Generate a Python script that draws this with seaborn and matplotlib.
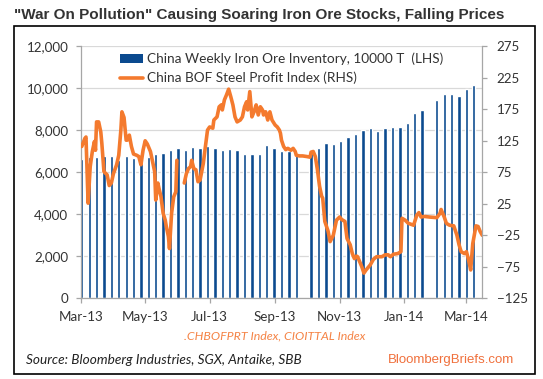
import matplotlib
matplotlib.use("Agg")
import matplotlib.pyplot as plt
import matplotlib.dates as mdates
from matplotlib.patches import Patch, Rectangle
from matplotlib.lines import Line2D
from matplotlib.ticker import FuncFormatter
import numpy as np
import pandas as pd
import seaborn as sns

# weekly iron ore inventory (10000 T), None = week not reported
inventory = [6630, 6710, 6710, 6790, 6790, 6590, 6760, 6670, 6670, 6750,
             6850, 6935, 7060, 7140, 7060, 7190, 7150, 7240, 7140, 7060,
             7110, 7060, 6890, 6890, 6890, 7290, 7140, 7030, 7000, 6840,
             None, 7030, 7150, 7410, 7340, 7480, 7680, 7810, 8010, 8095,
             7970, 8110, 8150, 8150, 8370, 8810, 8950, None, 9440, 9710,
             9710, 9620, 9950, 10170]
inv_start = "2013-03-02"

# BOF steel profit index, days after 2013-03-01, two segments (data gap in June)
profit_days_1 = [1, 4, 5, 7, 9, 11, 13, 14, 15, 17, 19, 20, 22, 25, 27, 29, 31, 34, 36, 38,
                 39, 41, 43, 44, 46, 48, 50, 53, 55, 57, 59, 61, 63, 66, 68, 70, 71, 73, 74, 76,
                 78, 80, 81, 83, 84, 86, 88, 90, 91]
profit_vals_1 = [116, 129, 131, 26, 84, 108, 124, 110, 155, 155, 139, 121, 76, 71, 54, 58, 73, 87, 102, 142,
                 171, 162, 126, 126, 134, 116, 104, 102, 100, 87, 110, 125, 120, 108, 92, 76, 31, 58, 50, 36,
                 10, -1, -11, -27, -46, 10, 36, 44, 94]
profit_days_2 = [98, 100, 102, 104, 105, 107, 109, 111, 113, 116, 118, 120, 122, 125, 126, 129, 131, 133, 134, 136,
                 138, 140, 142, 144, 146, 148, 151, 153, 155, 157, 158, 160, 162, 164, 166, 168, 170, 172, 173, 175,
                 177, 179, 181, 184, 186, 188, 189, 190, 192, 194, 196, 199, 201, 203, 204, 207, 210, 214, 217, 218,
                 220, 222, 224, 226, 228, 229, 231, 234, 236, 239, 242, 245, 247, 250, 252, 255, 257, 259, 261, 262,
                 264, 266, 268, 270, 274, 277, 280, 285, 288, 291, 293, 296, 300, 303, 304, 307, 310, 315, 318, 320,
                 322, 325, 330, 337, 340, 341, 344, 346, 349, 353, 356, 358, 360, 363, 365, 367, 369, 371, 374, 376,
                 378, 380]
profit_vals_2 = [58, 73, 81, 84, 94, 81, 79, 60, 63, 89, 116, 142, 147, 145, 158, 163, 179, 182, 174, 190,
                 198, 207, 195, 182, 163, 155, 158, 163, 179, 187, 174, 203, 163, 171, 182, 166, 179, 174, 166, 171,
                 158, 171, 158, 150, 147, 142, 137, 126, 116, 111, 113, 110, 113, 108, 102, 101, 101, 100, 99, 107,
                 108, 100, 79, 53, 37, 34, -3, -18, -35, -25, -1, 4, 0, -3, -30, -40, -54, -62, -58, -59,
                 -67, -75, -85, -80, -72, -63, -59, -59, -56, -56, -59, -55, -54, -51, 2, -1, -6, -9, 7, 11,
                 4, 5, 4, 3, 10, 16, 4, -6, -9, -10, -25, -40, -51, -54, -51, -64, -80, -38, -10, -11,
                 -19, -25]

BLUE = "#0B4A8F"
ORANGE = "#F47A2E"
GRAY_TXT = "#333333"
AXIS = "#A6A6A6"

sns.set_theme(style="white")
plt.rcParams['font.family'] = ['Lato', 'DejaVu Sans']

base = pd.Timestamp("2013-03-01")
bars = pd.DataFrame({
    "date": pd.date_range(inv_start, periods=len(inventory), freq="7D"),
    "inv": [np.nan if v is None else v for v in inventory],
}).dropna()

line = pd.concat([
    pd.DataFrame({"day": profit_days_1, "val": profit_vals_1, "seg": 1}),
    pd.DataFrame({"day": profit_days_2, "val": profit_vals_2, "seg": 2}),
])
line["date"] = base + pd.to_timedelta(line["day"], unit="D")

W, H = 543, 379
fig = plt.figure(figsize=(W / 100, H / 100), dpi=100)
ax = fig.add_axes([80.7 / W, 1 - 298.3 / H, (482.3 - 80.7) / W, (298.3 - 46.3) / H])

ax.bar(bars["date"], bars["inv"], width=3.1, color=BLUE, zorder=2)
ax.set_ylim(0, 12000)
ax.set_yticks(range(0, 12001, 2000))
ax.yaxis.set_major_formatter(FuncFormatter(lambda v, p: f"{int(v):,}"))
ax.set_xlim(base, pd.Timestamp("2014-03-16"))
ax.xaxis.set_major_locator(mdates.MonthLocator(bymonth=(1, 3, 5, 7, 9, 11)))
ax.xaxis.set_major_formatter(mdates.DateFormatter("%b-%y"))
ax.yaxis.grid(True, color="#D9D9D9", lw=0.9)
ax.set_axisbelow(True)
ax.set_xlabel("")
ax.set_ylabel("")

ax2 = ax.twinx()
sns.lineplot(data=line, x="date", y="val", units="seg", estimator=None,
             color=ORANGE, lw=2.6, ax=ax2)
ax2.set_ylim(-125, 275)
ax2.set_yticks(range(-125, 276, 50))
ax2.set_xlim(base, pd.Timestamp("2014-03-16"))
ax2.set_xlabel("")
ax2.set_ylabel("")
ax2.grid(False)

for a in (ax, ax2):
    for s in a.spines.values():
        s.set_visible(False)
ax.spines["left"].set_visible(True)
ax.spines["bottom"].set_visible(True)
ax2.spines["right"].set_visible(True)
for s in (ax.spines["left"], ax.spines["bottom"], ax2.spines["right"]):
    s.set_color(AXIS)
    s.set_linewidth(0.9)

ax.tick_params(axis="y", left=True, length=3.8, width=0.9, color=AXIS, pad=5,
               labelsize=9.6, labelcolor=GRAY_TXT)
ax.tick_params(axis="x", bottom=True, length=3.8, width=0.9, color=AXIS, pad=5.5,
               labelsize=9.6, labelcolor=GRAY_TXT)
ax2.tick_params(axis="y", right=True, length=3.8, width=0.9, color=AXIS, pad=6.5,
                labelsize=9.6, labelcolor=GRAY_TXT)

handles = [Patch(facecolor=BLUE, edgecolor="none"), Line2D([], [], color=ORANGE, lw=2.6)]
labels = ["China Weekly Iron Ore Inventory, 10000 T  (LHS)", "China BOF Steel Profit Index (RHS)"]
ax2.legend(handles, labels, loc="upper left", bbox_to_anchor=(0.098, 0.974), frameon=False,
           fontsize=9.8, handlelength=1.7, handletextpad=0.28, labelspacing=0.48,
           borderpad=0, borderaxespad=0, labelcolor=GRAY_TXT)

fig.text(14 / W, 1 - 19.5 / H, "\"War On Pollution\" Causing Soaring Iron Ore Stocks, Falling Prices",
         family="Liberation Sans", weight="bold", size=11.0, color="#333333", va="baseline")
fig.text(275 / W, 1 - 336 / H, ".CHBOFPRT Index, CIOITTAL Index", ha="center", va="center",
         style="italic", size=8.9, color="#F58345")
fig.text(25.6 / W, 1 - 360 / H, "Source: Bloomberg Industries, SGX, Antaike, SBB", ha="left", va="center",
         style="italic", size=9.8, color="#222222")
fig.text(514.5 / W, 1 - 360 / H, "BloombergBriefs.com", ha="right", va="center",
         family="Liberation Sans", size=9.5, color="#F0703C")

fig.patches.append(Rectangle((13.7 / W, 1 - 373.8 / H), (535 - 13.7) / W, (373.8 - 25.9) / H,
                             transform=fig.transFigure, fill=False, ec="black", lw=1.2))

fig.savefig("out.png", dpi=100)
